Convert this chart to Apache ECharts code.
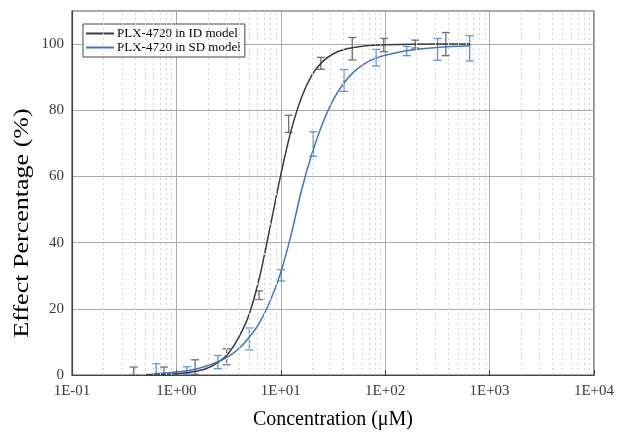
<!DOCTYPE html>
<html>
<head>
<meta charset="utf-8">
<script src="https://cdn.jsdelivr.net/npm/echarts@6/dist/echarts.min.js"></script>
<style>html,body{margin:0;padding:0;background:#fff}#c{width:617px;height:435px}</style>
</head>
<body>
<div id="c"></div>
<script>
const xTickLabels = ['1E-01','1E+00','1E+01','1E+02','1E+03','1E+04'];
const minorGridX = [0.2,0.3,0.4,0.5,0.6,0.7,0.8,0.9,2,3,4,5,6,7,8,9,20,30,40,50,60,70,80,90,200,300,400,500,600,700,800,900,2000,3000,4000,5000,6000,7000,8000,9000];

// Measured points (mean, error)
const idX   = [0.39, 0.76, 1.51, 3.03, 6.2, 11.9, 24.2, 48.4, 97, 194, 381];
const idY   = [1.2, 1.3, 2.4, 5.5, 24.1, 75.9, 94.2, 98.6, 99.7, 100.0, 100.0];
const idErr = [1.2, 1.1, 2.2, 2.4, 1.3, 2.6, 1.8, 3.4, 2.0, 1.2, 3.5];

const sdX   = [0.64, 1.26, 2.5, 5.0, 10.1, 20.4, 40.3, 81.8, 161, 318, 645];
const sdY   = [1.9, 1.4, 3.9, 10.9, 30.1, 69.8, 89.0, 95.9, 97.9, 98.4, 98.7];
const sdErr = [1.5, 1.1, 2.0, 3.3, 1.7, 3.7, 3.3, 2.5, 1.4, 3.3, 3.8];

// Fitted curves
const idCurveX = [0.5, 1, 1.585, 2, 2.51, 3.16, 3.98, 5.01, 6.31, 7.94, 10, 12.59, 15.85, 19.95, 25.1, 31.6, 39.8, 63.1, 100, 316, 650];
const idCurveY = [0.1, 0.4, 1.2, 2.1, 3.8, 6.6, 11.5, 18.6, 30.0, 45.0, 60.5, 74.0, 84.0, 90.7, 94.7, 97.0, 98.3, 99.4, 99.8, 100, 100];
const sdCurveX = [0.62, 1, 1.585, 2.51, 3.16, 3.98, 5.01, 6.31, 7.94, 10, 12.59, 15.85, 19.95, 25.1, 31.6, 39.8, 50.1, 63.1, 79.4, 100, 158, 316, 645];
const sdCurveY = [0.4, 0.9, 1.9, 4.0, 5.6, 8.0, 11.5, 16.0, 22.5, 31.0, 42.5, 56.0, 67.0, 76.0, 83.0, 88.0, 91.6, 94.0, 95.6, 96.6, 98.0, 99.0, 99.5];

const zip = (a,b,c) => a.map((v,i)=> c ? [v,b[i],c[i]] : [v,b[i]]);
const FONT = '"Liberation Serif", "Times New Roman", serif';

function errRender(color){
  return function(params, api){
    const x = api.value(0), y = api.value(1), e = api.value(2);
    const t = api.coord([x, y+e]), b = api.coord([x, y-e]);
    const w = 4;
    const st = {stroke: color, lineWidth: 1.3};
    return {type:'group', children:[
      {type:'line', shape:{x1:t[0],y1:t[1],x2:b[0],y2:b[1]}, style:st},
      {type:'line', shape:{x1:t[0]-w,y1:t[1],x2:t[0]+w,y2:t[1]}, style:st},
      {type:'line', shape:{x1:b[0]-w,y1:b[1],x2:b[0]+w,y2:b[1]}, style:st}
    ]};
  };
}

const chart = echarts.init(document.getElementById('c'), null, {renderer:'canvas'});
chart.setOption({
  animation: false,
  backgroundColor: '#fff',
  grid: {left:72, right:19, top:11, bottom:57, show:true, borderColor:'#555', borderWidth:1.2},
  legend: {
    left: 83, top: 24, orient: 'vertical', itemGap: 1, itemWidth: 28, itemHeight: 2, icon: 'rect',
    padding: [3,4,3,3], borderColor: '#444', borderWidth: 1, backgroundColor:'#fff',
    textStyle: {fontFamily: FONT, fontSize: 13, color:'#000', padding:[0,0,0,-2]},
    data: ['PLX-4720 in ID model','PLX-4720 in SD model']
  },
  xAxis: {
    type: 'log', logBase: 10, min: 0.1, max: 10000,
    name: 'Concentration (μM)', nameLocation: 'middle', nameGap: 35,
    nameTextStyle: {fontFamily: FONT, fontSize: 20, color:'#000'},
    axisLine: {lineStyle:{color:'#444', width:1.2}},
    axisTick: {inside:true, length:5, lineStyle:{color:'#444'}},
    axisLabel: {fontFamily: FONT, fontSize: 15, color:'#3a3a3a', margin: 9,
      formatter: v => xTickLabels[Math.round(Math.log10(v)) + 1]},
    splitLine: {show:true, lineStyle:{color:'#aaaaaa', width:1}}
  },
  yAxis: {
    type: 'value', min: 0, max: 110, interval: 20,
    axisLine: {show:true, lineStyle:{color:'#444', width:1.2}},
    axisTick: {show:false},
    axisLabel: {fontFamily: FONT, fontSize: 15, color:'#3a3a3a', margin: 8, showMaxLabel:false,
      formatter: v => (v > 100 ? '' : String(v))},
    splitLine: {show:true, lineStyle:{color:'#aaaaaa', width:1}}
  },
  graphic: [{
    type:'text', x: 22, y: 223, rotation: Math.PI/2, scaleX: 1.24,
    style: {text:'Effect Percentage (%)', font: '21px ' + FONT, fill:'#000',
      align:'center', verticalAlign:'middle', textAlign:'center', textVerticalAlign:'middle'}
  }],
  series: [
    {
      type:'line', name:'minor', data: [], silent:true, symbol:'none',
      markLine: {silent:true, symbol:['none','none'], label:{show:false},
        lineStyle:{color:'#d2d2d2', type:[2,3], width:1},
        data: minorGridX.map(v => ({xAxis: v}))}
    },
    {type:'custom', name:'idErr', renderItem: errRender('#6e6e6e'), data: zip(idX,idY,idErr), encode:{x:0,y:1}, clip:true, z:3},
    {type:'custom', name:'sdErr', renderItem: errRender('#5b95d8'), data: zip(sdX,sdY,sdErr), encode:{x:0,y:1}, clip:true, z:3},
    {type:'line', name:'PLX-4720 in ID model', data: zip(idCurveX,idCurveY), smooth:0.3, symbol:'none',
      lineStyle:{color:'#3a3a3a', width:1.5}, itemStyle:{color:'#3a3a3a'}, z:4},
    {type:'line', name:'PLX-4720 in SD model', data: zip(sdCurveX,sdCurveY), smooth:0.3, symbol:'none',
      lineStyle:{color:'#3f74c6', width:1.5}, itemStyle:{color:'#3f74c6'}, z:4}
  ]
});
</script>
</body>
</html>
